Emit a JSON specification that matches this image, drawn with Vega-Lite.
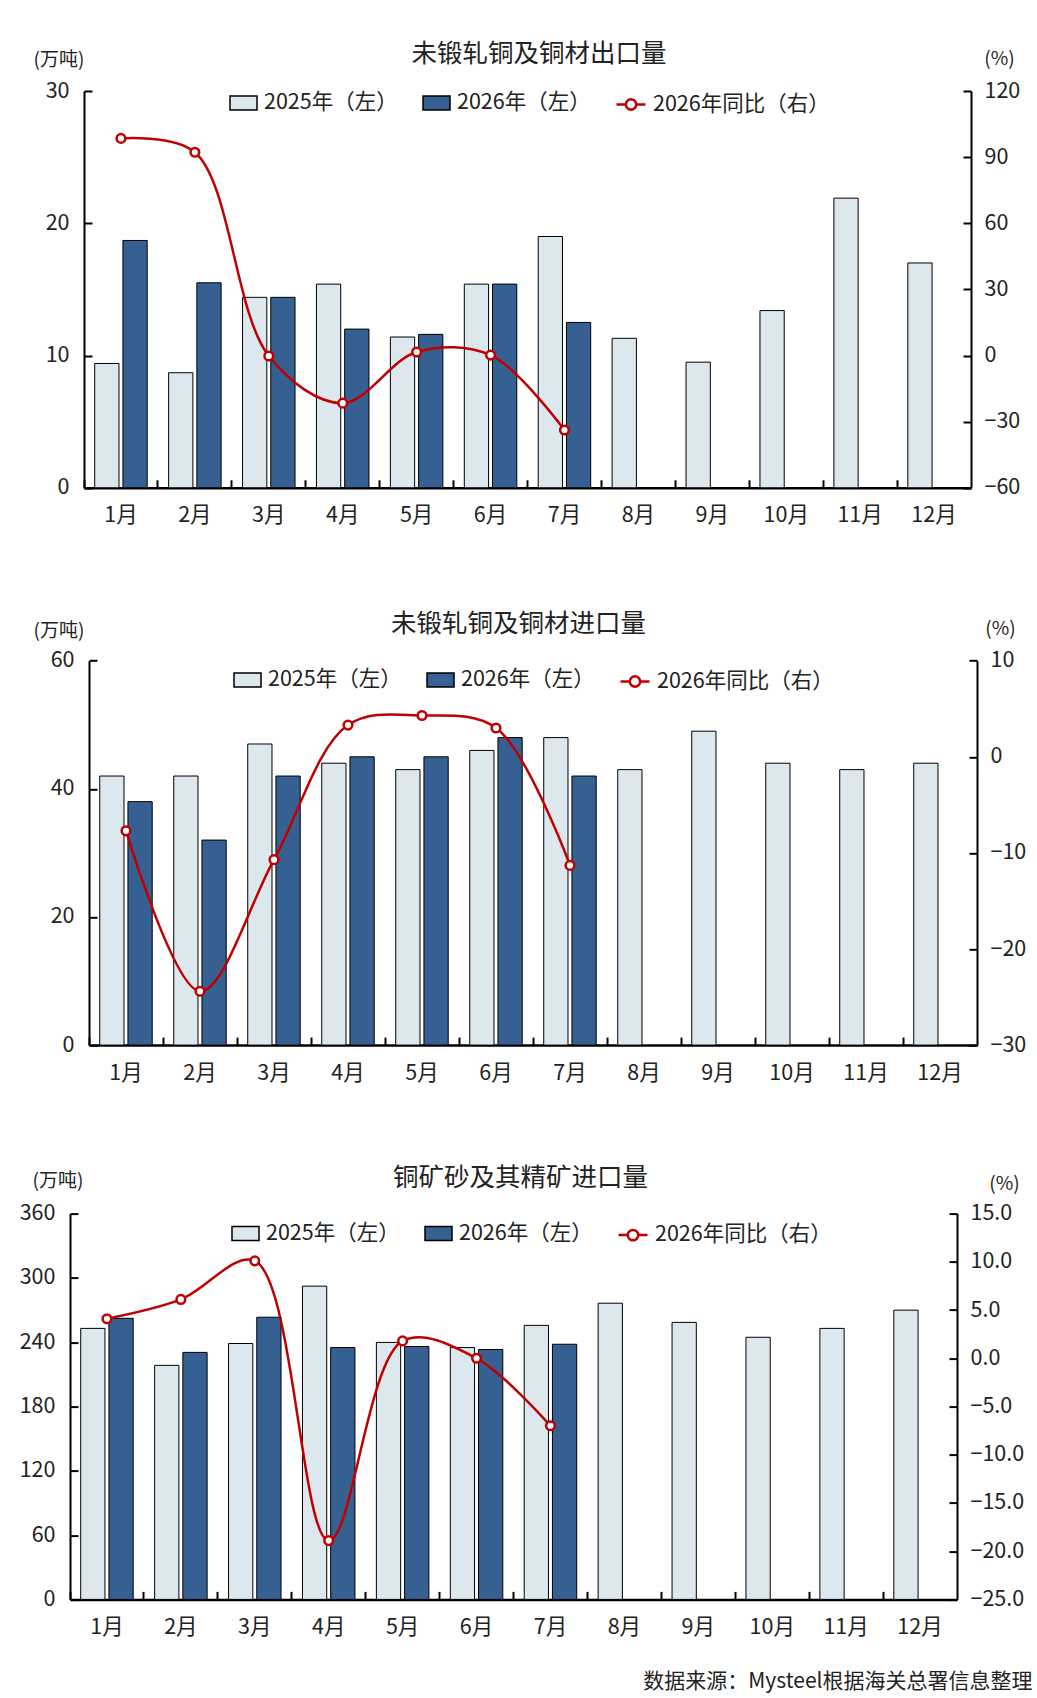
{
  "$schema": "https://vega.github.io/schema/vega-lite/v6.json",
  "padding": {"left": 19, "top": 41, "right": 5, "bottom": 5},
  "bounds": "flush",
  "spacing": 168.3,
  "resolve": {"scale": {"color": "independent", "stroke": "independent"}},
  "config": {
    "font": "Noto Sans CJK SC",
    "view": {"stroke": null},
    "axis": {"labelFont": "Noto Sans CJK SC", "labelFontSize": 21.5, "labelColor": "#222", "domainColor": "#000", "tickColor": "#000", "tickWidth": 2, "grid": false, "titleFont": "Noto Sans CJK SC", "titleFontWeight": "normal", "titleFontSize": 19, "titleColor": "#222"},
    "legend": {"labelFont": "Noto Sans CJK SC", "labelFontSize": 21.5, "labelColor": "#222", "padding": 0, "labelLimit": 400},
    "title": {"font": "Noto Sans CJK SC", "fontSize": 25.5, "fontWeight": "normal", "color": "#222"}
  },
  "datasets": {
    "c1b": [
      {"m": "1月", "s": "2025年（左）", "v": 9.4}, {"m": "1月", "s": "2026年（左）", "v": 18.7},
      {"m": "2月", "s": "2025年（左）", "v": 8.7}, {"m": "2月", "s": "2026年（左）", "v": 15.5},
      {"m": "3月", "s": "2025年（左）", "v": 14.4}, {"m": "3月", "s": "2026年（左）", "v": 14.4},
      {"m": "4月", "s": "2025年（左）", "v": 15.4}, {"m": "4月", "s": "2026年（左）", "v": 12.0},
      {"m": "5月", "s": "2025年（左）", "v": 11.4}, {"m": "5月", "s": "2026年（左）", "v": 11.6},
      {"m": "6月", "s": "2025年（左）", "v": 15.4}, {"m": "6月", "s": "2026年（左）", "v": 15.4},
      {"m": "7月", "s": "2025年（左）", "v": 19.0}, {"m": "7月", "s": "2026年（左）", "v": 12.5},
      {"m": "8月", "s": "2025年（左）", "v": 11.3},
      {"m": "9月", "s": "2025年（左）", "v": 9.5},
      {"m": "10月", "s": "2025年（左）", "v": 13.4},
      {"m": "11月", "s": "2025年（左）", "v": 21.9},
      {"m": "12月", "s": "2025年（左）", "v": 17.0}
    ],
    "c1y": [
      {"m": "1月", "y": 98.5}, {"m": "2月", "y": 92.2}, {"m": "3月", "y": -0.2}, {"m": "4月", "y": -21.6},
      {"m": "5月", "y": 1.6}, {"m": "6月", "y": 0.2}, {"m": "7月", "y": -33.8}
    ],
    "c2b": [
      {"m": "1月", "s": "2025年（左）", "v": 42}, {"m": "1月", "s": "2026年（左）", "v": 38},
      {"m": "2月", "s": "2025年（左）", "v": 42}, {"m": "2月", "s": "2026年（左）", "v": 32},
      {"m": "3月", "s": "2025年（左）", "v": 47}, {"m": "3月", "s": "2026年（左）", "v": 42},
      {"m": "4月", "s": "2025年（左）", "v": 44}, {"m": "4月", "s": "2026年（左）", "v": 45},
      {"m": "5月", "s": "2025年（左）", "v": 43}, {"m": "5月", "s": "2026年（左）", "v": 45},
      {"m": "6月", "s": "2025年（左）", "v": 46}, {"m": "6月", "s": "2026年（左）", "v": 48},
      {"m": "7月", "s": "2025年（左）", "v": 48}, {"m": "7月", "s": "2026年（左）", "v": 42},
      {"m": "8月", "s": "2025年（左）", "v": 43},
      {"m": "9月", "s": "2025年（左）", "v": 49},
      {"m": "10月", "s": "2025年（左）", "v": 44},
      {"m": "11月", "s": "2025年（左）", "v": 43},
      {"m": "12月", "s": "2025年（左）", "v": 44}
    ],
    "c2y": [
      {"m": "1月", "y": -7.7}, {"m": "2月", "y": -24.4}, {"m": "3月", "y": -10.7}, {"m": "4月", "y": 3.3},
      {"m": "5月", "y": 4.3}, {"m": "6月", "y": 3.0}, {"m": "7月", "y": -11.3}
    ],
    "c3b": [
      {"m": "1月", "s": "2025年（左）", "v": 252.9}, {"m": "1月", "s": "2026年（左）", "v": 262.3},
      {"m": "2月", "s": "2025年（左）", "v": 218.4}, {"m": "2月", "s": "2026年（左）", "v": 230.5},
      {"m": "3月", "s": "2025年（左）", "v": 238.8}, {"m": "3月", "s": "2026年（左）", "v": 263.3},
      {"m": "4月", "s": "2025年（左）", "v": 292.3}, {"m": "4月", "s": "2026年（左）", "v": 235.0},
      {"m": "5月", "s": "2025年（左）", "v": 239.8}, {"m": "5月", "s": "2026年（左）", "v": 236.0},
      {"m": "6月", "s": "2025年（左）", "v": 235.0}, {"m": "6月", "s": "2026年（左）", "v": 233.2},
      {"m": "7月", "s": "2025年（左）", "v": 255.7}, {"m": "7月", "s": "2026年（左）", "v": 238.1},
      {"m": "8月", "s": "2025年（左）", "v": 276.4},
      {"m": "9月", "s": "2025年（左）", "v": 258.5},
      {"m": "10月", "s": "2025年（左）", "v": 244.6},
      {"m": "11月", "s": "2025年（左）", "v": 252.9},
      {"m": "12月", "s": "2025年（左）", "v": 269.9}
    ],
    "c3y": [
      {"m": "1月", "y": 4.1}, {"m": "2月", "y": 6.1}, {"m": "3月", "y": 10.1}, {"m": "4月", "y": -18.9},
      {"m": "5月", "y": 1.8}, {"m": "6月", "y": 0.0}, {"m": "7月", "y": -7.0}
    ]
  },
  "vconcat": [
    {
      "width": 901, "height": 396.8,
      "title": {"text": "未锻轧铜及铜材出口量", "frame": "group", "anchor": "middle", "dx": 18.5, "offset": -18},
      "layer": [
        {
          "data": {"name": "c1b"},
          "mark": {"type": "bar", "stroke": "#000", "strokeWidth": 1},
          "encoding": {
            "x": {"field": "m", "type": "nominal",
              "scale": {"domain": ["1月","2月","3月","4月","5月","6月","7月","8月","9月","10月","11月","12月"], "range": [14, 901], "paddingInner": 0.29, "paddingOuter": 0.145},
              "axis": {"title": null, "labelAngle": 0, "tickSize": -8, "bandPosition": -0.2042, "domainWidth": 2.5, "labelPadding": 25}},
            "xOffset": {"field": "s", "scale": {"domain": ["2025年（左）", "2026年（左）"], "paddingInner": 0.14}},
            "y": {"field": "v", "type": "quantitative", "scale": {"domain": [0, 30], "nice": false},
              "axis": {"values": [0, 10, 20, 30], "offset": -14, "tickSize": -8, "labelPadding": 23, "domainWidth": 2,
                "title": "(万吨)", "titleAngle": 0, "titleX": -25.5, "titleY": -32, "titleAlign": "center", "titleBaseline": "middle"}},
            "color": {"field": "s", "type": "nominal", "scale": {"domain": ["2025年（左）", "2026年（左）"], "range": ["#dde7ee", "#376092"]},
              "legend": {"orient": "none", "legendX": 159, "legendY": -2.5, "direction": "horizontal", "title": null,
                "symbolType": "M-1,-0.52H1V0.52H-1Z", "symbolSize": 729, "labelOffset": 6, "columnPadding": 22,
                "encode": {"symbols": {"update": {"stroke": {"value": "#000"}, "strokeWidth": {"value": 1}}}}}}
          }
        },
        {
          "data": {"name": "c1y"},
          "mark": {"type": "line", "interpolate": "catmull-rom", "strokeWidth": 2.5,
            "point": {"filled": false, "fill": "white", "size": 75, "strokeWidth": 2.5}},
          "encoding": {
            "x": {"field": "m", "type": "nominal"},
            "y": {"field": "y", "type": "quantitative", "scale": {"domain": [-60, 120], "nice": false},
              "axis": {"orient": "right", "values": [-60, -30, 0, 30, 60, 90, 120], "tickSize": -8, "labelPadding": 21, "domainWidth": 2,
                "title": "(%)", "titleAngle": 0, "titleX": 28, "titleY": -33, "titleAlign": "center", "titleBaseline": "middle"}},
            "stroke": {"datum": "2026年同比（右）", "scale": {"range": ["#c00000"]},
              "legend": {"orient": "none", "legendX": 545, "legendY": -2.5, "title": null,
                "symbolType": "M-1,0H-0.36M0.36,0A0.36,0.36,0,1,1,-0.36,0A0.36,0.36,0,1,1,0.36,0M0.36,0H1",
                "symbolSize": 841, "labelOffset": 6,
                "encode": {"symbols": {"update": {"fill": {"value": "white"}, "stroke": {"value": "#c00000"}, "strokeWidth": {"value": 2.5}}}}}}
          }
        }
      ],
      "resolve": {"scale": {"y": "independent"}}
    },
    {
      "width": 907, "height": 388.8,
      "title": {"text": "未锻轧铜及铜材进口量", "frame": "group", "anchor": "middle", "dx": -5, "offset": -18},
      "layer": [
        {
          "data": {"name": "c2b"},
          "mark": {"type": "bar", "stroke": "#000", "strokeWidth": 1},
          "encoding": {
            "x": {"field": "m", "type": "nominal",
              "scale": {"domain": ["1月","2月","3月","4月","5月","6月","7月","8月","9月","10月","11月","12月"], "range": [19, 907], "paddingInner": 0.29, "paddingOuter": 0.145},
              "axis": {"title": null, "labelAngle": 0, "tickSize": -8, "bandPosition": -0.2042, "domainWidth": 2.5, "labelPadding": 25}},
            "xOffset": {"field": "s", "scale": {"domain": ["2025年（左）", "2026年（左）"], "paddingInner": 0.14}},
            "y": {"field": "v", "type": "quantitative", "scale": {"domain": [0, 60], "nice": false, "range": [388.8, 4.4]},
              "axis": {"values": [0, 20, 40, 60], "offset": -19, "tickSize": -8, "labelPadding": 23, "domainWidth": 2,
                "title": "(万吨)", "titleAngle": 0, "titleX": -30.5, "titleY": -25.6, "titleAlign": "center", "titleBaseline": "middle"}},
            "color": {"field": "s", "type": "nominal", "scale": {"domain": ["2025年（左）", "2026年（左）"], "range": ["#dde7ee", "#376092"]},
              "legend": {"orient": "none", "legendX": 163, "legendY": 9.2, "direction": "horizontal", "title": null,
                "symbolType": "M-1,-0.52H1V0.52H-1Z", "symbolSize": 729, "labelOffset": 6, "columnPadding": 22,
                "encode": {"symbols": {"update": {"stroke": {"value": "#000"}, "strokeWidth": {"value": 1}}}}}}
          }
        },
        {
          "data": {"name": "c2y"},
          "mark": {"type": "line", "interpolate": "catmull-rom", "strokeWidth": 2.5,
            "point": {"filled": false, "fill": "white", "size": 75, "strokeWidth": 2.5}},
          "encoding": {
            "x": {"field": "m", "type": "nominal"},
            "y": {"field": "y", "type": "quantitative", "scale": {"domain": [-30, 10], "nice": false, "range": [388.8, 4.4]},
              "axis": {"orient": "right", "values": [-30, -20, -10, 0, 10], "tickSize": -8, "labelPadding": 21, "domainWidth": 2,
                "title": "(%)", "titleAngle": 0, "titleX": 23, "titleY": -27.6, "titleAlign": "center", "titleBaseline": "middle"}},
            "stroke": {"datum": "2026年同比（右）", "scale": {"range": ["#c00000"]},
              "legend": {"orient": "none", "legendX": 549, "legendY": 9.2, "title": null,
                "symbolType": "M-1,0H-0.36M0.36,0A0.36,0.36,0,1,1,-0.36,0A0.36,0.36,0,1,1,0.36,0M0.36,0H1",
                "symbolSize": 841, "labelOffset": 6,
                "encode": {"symbols": {"update": {"fill": {"value": "white"}, "stroke": {"value": "#c00000"}, "strokeWidth": {"value": 2.5}}}}}}
          }
        }
      ],
      "resolve": {"scale": {"y": "independent"}}
    },
    {
      "width": 887, "height": 385.8,
      "title": {"text": "铜矿砂及其精矿进口量", "frame": "group", "anchor": "middle", "dx": 7, "offset": -20},
      "layer": [
        {
          "data": {"name": "c3b"},
          "mark": {"type": "bar", "stroke": "#000", "strokeWidth": 1},
          "encoding": {
            "x": {"field": "m", "type": "nominal",
              "scale": {"domain": ["1月","2月","3月","4月","5月","6月","7月","8月","9月","10月","11月","12月"], "range": [0, 887], "paddingInner": 0.29, "paddingOuter": 0.145},
              "axis": {"labelAngle": 0, "tickSize": -8, "bandPosition": -0.2042, "domainWidth": 2.5, "labelPadding": 25,
                "title": "数据来源：Mysteel根据海关总署信息整理", "titleFontSize": 21, "titleX": 962, "titleY": 82, "titleAlign": "right", "titleBaseline": "middle", "titleAngle": 0}},
            "xOffset": {"field": "s", "scale": {"domain": ["2025年（左）", "2026年（左）"], "paddingInner": 0.14}},
            "y": {"field": "v", "type": "quantitative", "scale": {"domain": [0, 360], "nice": false},
              "axis": {"values": [0, 60, 120, 180, 240, 300, 360], "tickSize": -8, "labelPadding": 23, "domainWidth": 2,
                "title": "(万吨)", "titleAngle": 0, "titleX": -12.5, "titleY": -33, "titleAlign": "center", "titleBaseline": "middle"}},
            "color": {"field": "s", "type": "nominal", "scale": {"domain": ["2025年（左）", "2026年（左）"], "range": ["#dde7ee", "#376092"]},
              "legend": {"orient": "none", "legendX": 161, "legendY": 5.5, "direction": "horizontal", "title": null,
                "symbolType": "M-1,-0.52H1V0.52H-1Z", "symbolSize": 729, "labelOffset": 6, "columnPadding": 22,
                "encode": {"symbols": {"update": {"stroke": {"value": "#000"}, "strokeWidth": {"value": 1}}}}}}
          }
        },
        {
          "data": {"name": "c3y"},
          "mark": {"type": "line", "interpolate": "catmull-rom", "strokeWidth": 2.5,
            "point": {"filled": false, "fill": "white", "size": 75, "strokeWidth": 2.5}},
          "encoding": {
            "x": {"field": "m", "type": "nominal"},
            "y": {"field": "y", "type": "quantitative", "scale": {"domain": [-25, 15], "nice": false},
              "axis": {"orient": "right", "values": [-25, -20, -15, -10, -5, 0, 5, 10, 15], "format": ".1f", "tickSize": -8, "labelPadding": 21, "domainWidth": 2,
                "title": "(%)", "titleAngle": 0, "titleX": 47, "titleY": -30, "titleAlign": "center", "titleBaseline": "middle"}},
            "stroke": {"datum": "2026年同比（右）", "scale": {"range": ["#c00000"]},
              "legend": {"orient": "none", "legendX": 547, "legendY": 5.5, "title": null,
                "symbolType": "M-1,0H-0.36M0.36,0A0.36,0.36,0,1,1,-0.36,0A0.36,0.36,0,1,1,0.36,0M0.36,0H1",
                "symbolSize": 841, "labelOffset": 6,
                "encode": {"symbols": {"update": {"fill": {"value": "white"}, "stroke": {"value": "#c00000"}, "strokeWidth": {"value": 2.5}}}}}}
          }
        }
      ],
      "resolve": {"scale": {"y": "independent"}}
    }
  ]
}
